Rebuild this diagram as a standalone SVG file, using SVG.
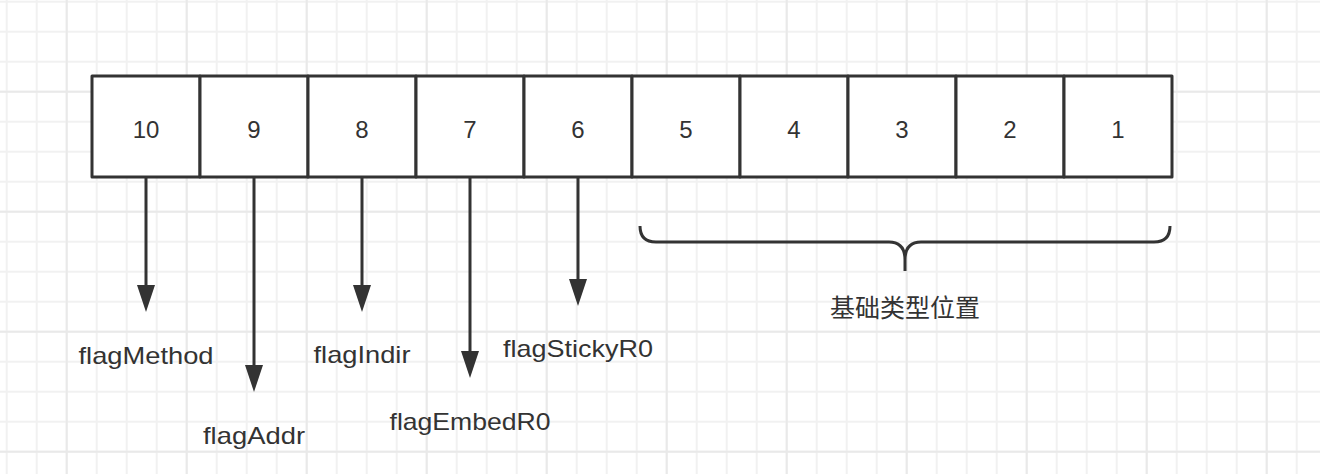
<svg xmlns="http://www.w3.org/2000/svg" width="1320" height="474" viewBox="0 0 1320 474">
  <defs>
    <pattern id="gMinor" patternUnits="userSpaceOnUse" x="-8.3" y="-13.3" width="30" height="30">
      <path d="M15 0V30M0 15H30" stroke="#f1f1f1" stroke-width="2" fill="none"/>
    </pattern>
    <pattern id="gMajor" patternUnits="userSpaceOnUse" x="6.7" y="31.7" width="120" height="120">
      <path d="M60 0V120M0 60H120" stroke="#e9e9e9" stroke-width="2" fill="none"/>
    </pattern>
    <marker id="arrow" markerUnits="userSpaceOnUse" markerWidth="20" markerHeight="28" refX="9" refY="27" orient="auto-start-reverse" viewBox="0 0 18 27">
      <polygon points="0,0 18,0 9,27" fill="#333333"/>
    </marker>
  </defs>
  <style>
    .cell rect { fill: #ffffff; stroke: #333333; stroke-width: 3; stroke-linejoin: round; }
    .num { font-family: "Liberation Sans", Arial, sans-serif; font-size: 24px; fill: #333333; text-anchor: middle; }
    .lbl { font-family: "Liberation Sans", Arial, sans-serif; font-size: 24px; fill: #333333; text-anchor: middle; }
    .cjk { font-family: "Liberation Sans", "Noto Sans CJK SC", sans-serif; font-size: 25px; fill: #333333; text-anchor: middle; }
    .conn line { stroke: #333333; stroke-width: 3; }
    .head { fill: #333333; }
    .brace { fill: none; stroke: #333333; stroke-width: 3; stroke-linejoin: round; }
  </style>
  <rect x="0" y="0" width="1320" height="474" fill="#ffffff"/>
  <rect x="0" y="0" width="1320" height="474" fill="url(#gMinor)"/>
  <rect x="0" y="0" width="1320" height="474" fill="url(#gMajor)"/>

  <g id="cell-10" class="cell"><rect x="92" y="76" width="108" height="101"/><text class="num" x="146" y="138">10</text></g>
  <g id="cell-9" class="cell"><rect x="200" y="76" width="108" height="101"/><text class="num" x="254" y="138">9</text></g>
  <g id="cell-8" class="cell"><rect x="308" y="76" width="108" height="101"/><text class="num" x="362" y="138">8</text></g>
  <g id="cell-7" class="cell"><rect x="416" y="76" width="108" height="101"/><text class="num" x="470" y="138">7</text></g>
  <g id="cell-6" class="cell"><rect x="524" y="76" width="108" height="101"/><text class="num" x="578" y="138">6</text></g>
  <g id="cell-5" class="cell"><rect x="632" y="76" width="108" height="101"/><text class="num" x="686" y="138">5</text></g>
  <g id="cell-4" class="cell"><rect x="740" y="76" width="108" height="101"/><text class="num" x="794" y="138">4</text></g>
  <g id="cell-3" class="cell"><rect x="848" y="76" width="108" height="101"/><text class="num" x="902" y="138">3</text></g>
  <g id="cell-2" class="cell"><rect x="956" y="76" width="108" height="101"/><text class="num" x="1010" y="138">2</text></g>
  <g id="cell-1" class="cell"><rect x="1064" y="76" width="108" height="101"/><text class="num" x="1118" y="138">1</text></g>

  <g id="connectors" class="conn">
    <line x1="146" y1="178" x2="146" y2="286"/>
    <polygon class="head" points="137,285 155,285 146,312"/>
    <line x1="254" y1="178" x2="254" y2="366"/>
    <polygon class="head" points="245,365 263,365 254,392"/>
    <line x1="362" y1="178" x2="362" y2="286"/>
    <polygon class="head" points="353,285 371,285 362,312"/>
    <line x1="470" y1="178" x2="470" y2="352"/>
    <polygon class="head" points="461,351 479,351 470,378"/>
    <line x1="578" y1="178" x2="578" y2="280"/>
    <polygon class="head" points="569,279 587,279 578,306"/>
  </g>

  <g id="brace">
    <path class="brace" d="M640,226 Q640,242 656,242 L889,242 Q905,242 905,260 L905,271 M905,260 Q905,242 921,242 L1154,242 Q1170,242 1170,226"/>
  </g>

  <g id="label-flagMethod"><text class="lbl" x="146" y="364" textLength="135" lengthAdjust="spacingAndGlyphs">flagMethod</text></g>
  <g id="label-flagAddr"><text class="lbl" x="254" y="444" textLength="102" lengthAdjust="spacingAndGlyphs">flagAddr</text></g>
  <g id="label-flagIndir"><text class="lbl" x="362" y="363" textLength="97" lengthAdjust="spacingAndGlyphs">flagIndir</text></g>
  <g id="label-flagEmbedR0"><text class="lbl" x="470" y="430" textLength="161" lengthAdjust="spacingAndGlyphs">flagEmbedR0</text></g>
  <g id="label-flagStickyR0"><text class="lbl" x="578" y="357" textLength="150" lengthAdjust="spacingAndGlyphs">flagStickyR0</text></g>
  <g id="label-basic"><text class="cjk" x="905" y="317">基础类型位置</text></g>
</svg>
